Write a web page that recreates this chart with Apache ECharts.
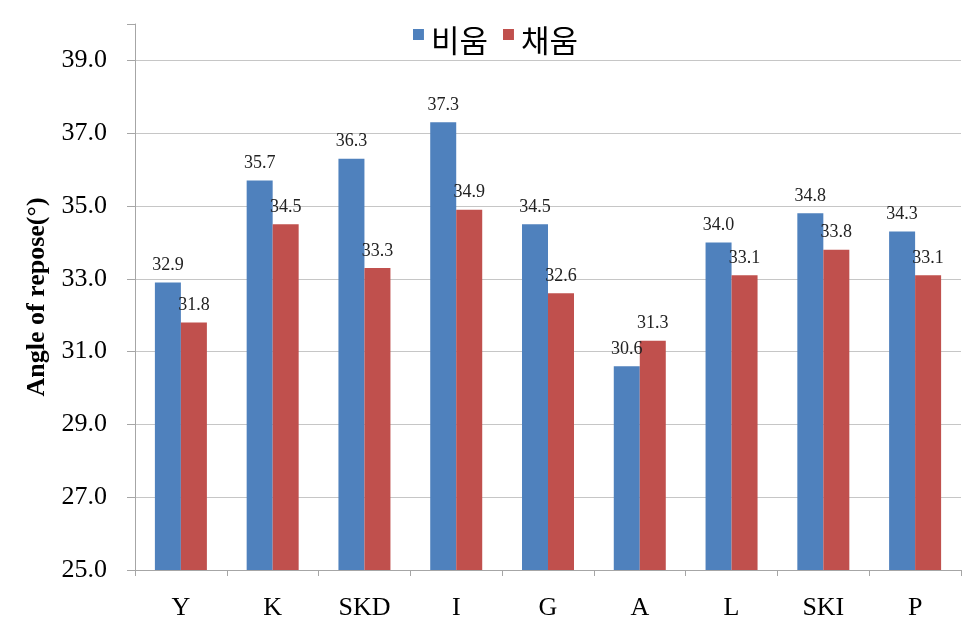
<!DOCTYPE html>
<html><head><meta charset="utf-8">
<script src="https://cdn.jsdelivr.net/npm/echarts@6/dist/echarts.min.js"></script>
<style>html,body{margin:0;padding:0;background:#fff}#c{width:978px;height:640px}</style>
</head><body><div id="c"></div>
<script>
const categories = ['Y','K','SKD','I','G','A','L','SKI','P'];
const seriesNames = ['비움','채움'];
const emptyValues = [32.9, 35.7, 36.3, 37.3, 34.5, 30.6, 34.0, 34.8, 34.3];
const filledValues = [31.8, 34.5, 33.3, 34.9, 32.6, 31.3, 33.1, 33.8, 33.1];
const yMin = 25, yMax = 40, yStep = 2;

const chart = echarts.init(document.getElementById('c'));
const gridCol = '#C6C6C6';
const labelStyle = {show:true, position:'top', distance:8, fontFamily:'Liberation Serif', fontSize:18, color:'#222', formatter: p => p.value.toFixed(1)};
const legendIcon = 'path://M0,0H10V10H0Z M0,21H0.01V21.01H0Z';
chart.setOption({
  animation:false,
  legend:{top:20, left:408, itemWidth:11, itemHeight:23, itemGap:15,
    textStyle:{fontFamily:'Noto Sans CJK KR', fontSize:31, color:'#000', padding:[0,0,0,2]},
    data:[{name:seriesNames[0], icon:legendIcon},{name:seriesNames[1], icon:legendIcon}]},
  grid:{left:135, right:17, top:24, bottom:70, containLabel:false},
  xAxis:{type:'category', data:categories, boundaryGap:true,
    axisLine:{lineStyle:{color:'#A6A6A6'}},
    axisTick:{show:true, length:6, lineStyle:{color:'#A6A6A6'}},
    axisLabel:{fontFamily:'Liberation Serif', fontSize:26, color:'#000', margin:25}},
  yAxis:{type:'value', min:yMin, max:yMax, interval:yStep,
    name:'Angle of repose(°)', nameLocation:'middle', nameGap:84, nameRotate:90,
    nameTextStyle:{fontFamily:'Liberation Serif', fontSize:26, fontWeight:'bold', color:'#000'},
    axisLine:{show:true, lineStyle:{color:'#A6A6A6'}},
    axisTick:{show:true, length:8, lineStyle:{color:'#A6A6A6'}},
    axisLabel:{fontFamily:'Liberation Serif', fontSize:26, color:'#000', margin:28,
      formatter: v => (v === yMax ? '' : v.toFixed(1))},
    splitLine:{show:true, lineStyle:{color:[gridCol,gridCol,gridCol,gridCol,gridCol,gridCol,gridCol,gridCol,'rgba(0,0,0,0)'], width:1}}},
  series:[
    {name:seriesNames[0], type:'bar', data:emptyValues, barWidth:26, barGap:'0%',
      itemStyle:{color:'#4F81BD'}, label:labelStyle},
    {name:seriesNames[1], type:'bar', data:filledValues, barWidth:26, barGap:'0%',
      itemStyle:{color:'#C0504D'}, label:labelStyle}
  ]
});
</script></body></html>
